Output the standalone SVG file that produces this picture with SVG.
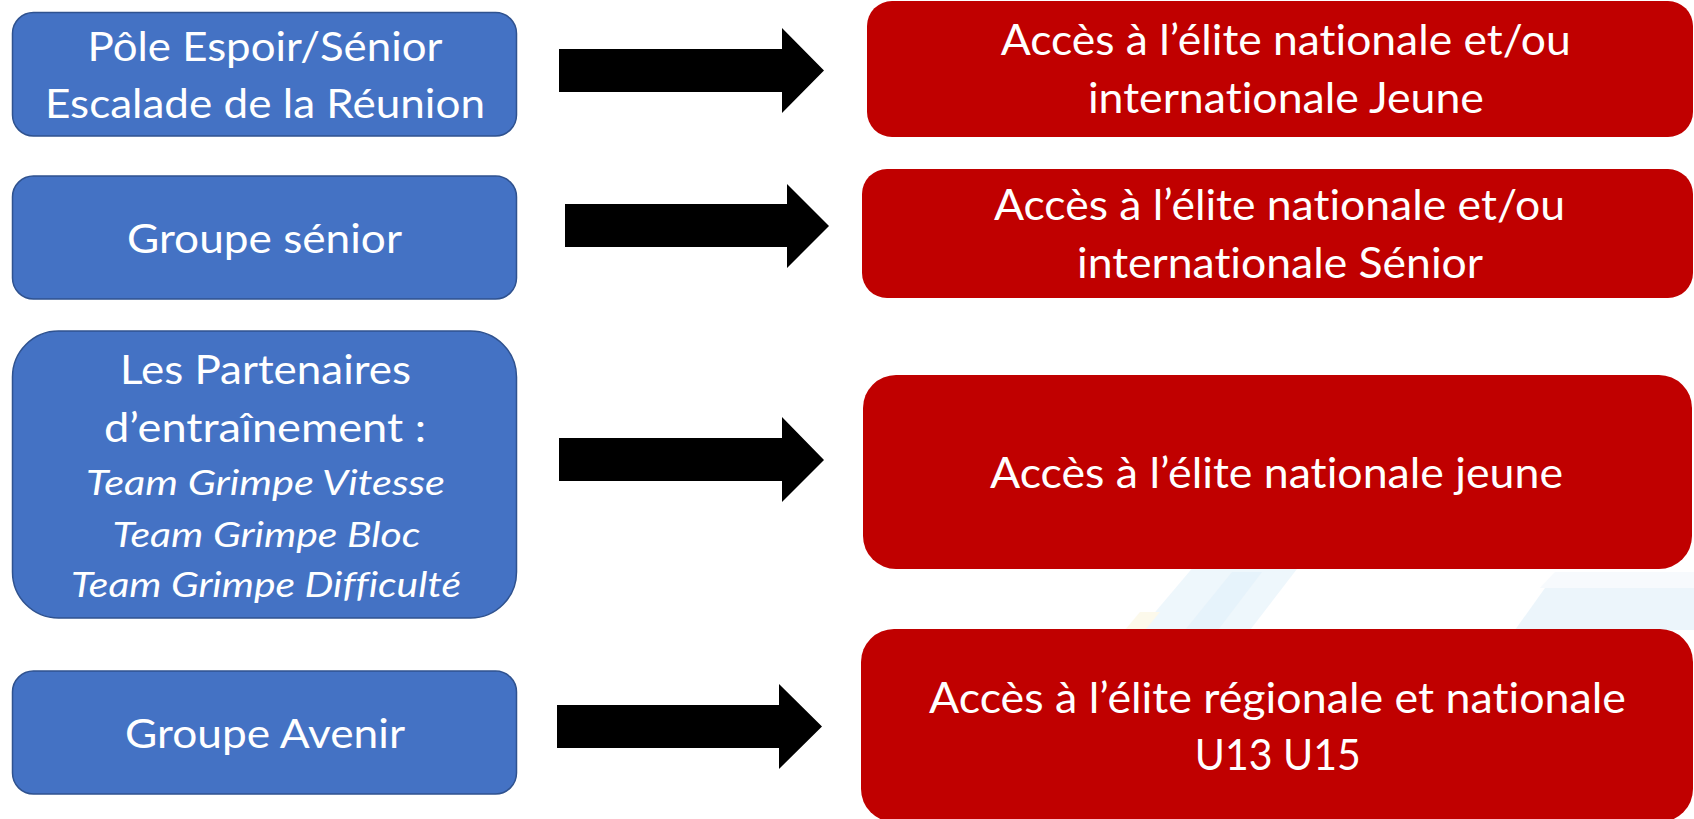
<svg xmlns="http://www.w3.org/2000/svg" width="1694" height="819" viewBox="0 0 1694 819">
<style>
.blue{fill:#4472C4;stroke:#2F528F;stroke-width:1.5}
.red{fill:#C00000}
.t{fill:#FFFFFF;font-family:Lato,"Open Sans","Liberation Sans",sans-serif;text-anchor:middle;font-variant-ligatures:none}
.tb{font-size:41px}
.ti{font-size:34px;font-style:italic}
.tr{font-size:42px}
.arrow{fill:#000000}
</style>
<rect width="1694" height="819" fill="#FFFFFF"/>
<g id="background" opacity="0.6">
<polygon points="1140,630 1195,565 1300,565 1250,630" fill="#E4F2FB"/>
<polygon points="1185,630 1232,572 1262,572 1218,630" fill="#D6ECF9"/>
<polygon points="1125,630 1140,612 1160,612 1145,630" fill="#FBF6DF"/>
<polygon points="1515,630 1545,588 1694,588 1694,630" fill="#E0F0FA"/>
<polygon points="1540,588 1555,572 1694,572 1694,588" fill="#F2F8FC"/>
</g>
<g id="node-pole">
<rect class="blue" x="12.5" y="12.5" width="504" height="123.5" rx="21"/>
<text class="t tb" x="265" y="60.7" textLength="355" lengthAdjust="spacingAndGlyphs">Pôle Espoir/Sénior</text>
<text class="t tb" x="265" y="118" textLength="440" lengthAdjust="spacingAndGlyphs">Escalade de la Réunion</text>
</g>
<g id="node-senior">
<rect class="blue" x="12.5" y="176" width="504" height="123" rx="21"/>
<text class="t tb" x="264.5" y="252.7" textLength="275" lengthAdjust="spacingAndGlyphs">Groupe sénior</text>
</g>
<g id="node-partenaires">
<rect class="blue" x="12.5" y="331" width="504" height="287" rx="46"/>
<text class="t tb" x="265.5" y="384" textLength="291" lengthAdjust="spacingAndGlyphs">Les Partenaires</text>
<text class="t tb" x="265" y="441.7" textLength="322" lengthAdjust="spacingAndGlyphs">d’entraînement :</text>
<text class="t ti" x="265.5" y="495" textLength="359" lengthAdjust="spacingAndGlyphs">Team Grimpe Vitesse</text>
<text class="t ti" x="266.5" y="546.7" textLength="308" lengthAdjust="spacingAndGlyphs">Team Grimpe Bloc</text>
<text class="t ti" x="266" y="597" textLength="390" lengthAdjust="spacingAndGlyphs">Team Grimpe Difficulté</text>
</g>
<g id="node-avenir">
<rect class="blue" x="12.5" y="671" width="504" height="123" rx="21"/>
<text class="t tb" x="265" y="748" textLength="280" lengthAdjust="spacingAndGlyphs">Groupe Avenir</text>
</g>
<g id="node-elite-jeune-intl">
<rect class="red" x="867" y="1" width="826" height="136" rx="25"/>
<text class="t tr" x="1285.7" y="55" textLength="570" lengthAdjust="spacingAndGlyphs">Accès à l’élite nationale et/ou</text>
<text class="t tr" x="1285.9" y="113" textLength="396" lengthAdjust="spacingAndGlyphs">internationale Jeune</text>
</g>
<g id="node-elite-senior-intl">
<rect class="red" x="862" y="169" width="831" height="129" rx="25"/>
<text class="t tr" x="1279.5" y="220" textLength="571" lengthAdjust="spacingAndGlyphs">Accès à l’élite nationale et/ou</text>
<text class="t tr" x="1280" y="278" textLength="406" lengthAdjust="spacingAndGlyphs">internationale Sénior</text>
</g>
<g id="node-elite-jeune">
<rect class="red" x="863" y="375" width="829" height="194" rx="33"/>
<text class="t tr" x="1276.5" y="487.7" textLength="573" lengthAdjust="spacingAndGlyphs">Accès à l’élite nationale jeune</text>
</g>
<g id="node-elite-regionale">
<rect class="red" x="861" y="629" width="832" height="193" rx="33"/>
<text class="t tr" x="1277.5" y="713" textLength="697" lengthAdjust="spacingAndGlyphs">Accès à l’élite régionale et nationale</text>
<text class="t tr" x="1277.8" y="770" textLength="166" lengthAdjust="spacingAndGlyphs">U13 U15</text>
</g>
<g id="connectors">
<polygon class="arrow" points="559,49 782,49 782,28 824,70.5 782,113 782,92 559,92"/>
<polygon class="arrow" points="565,204 787,204 787,184 829,226 787,268 787,247 565,247"/>
<polygon class="arrow" points="559,438 782,438 782,417 824,460 782,502 782,481 559,481"/>
<polygon class="arrow" points="557,705 779,705 779,684 822,726.5 779,769 779,748 557,748"/>
</g>
</svg>
